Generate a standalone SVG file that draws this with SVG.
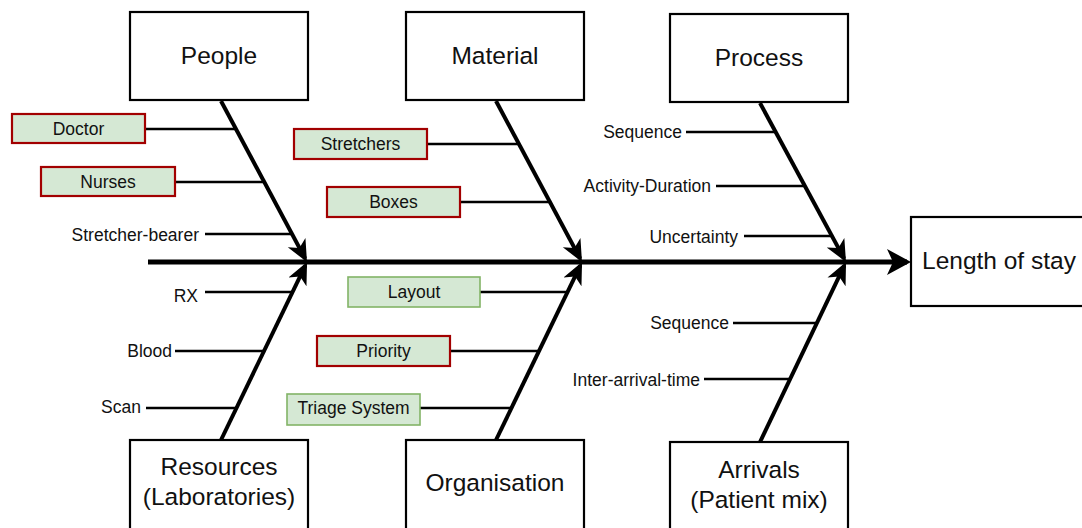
<svg xmlns="http://www.w3.org/2000/svg" width="1082" height="528" viewBox="0 0 1082 528">
<style>
.node rect{fill:#fff;stroke:#000;stroke-width:2.2}
.title{font-family:"Liberation Sans",Arial,sans-serif;font-size:24.5px;fill:#111;text-anchor:middle}
.lbl{font-family:"Liberation Sans",Arial,sans-serif;font-size:17.5px;fill:#111}
.bad rect{fill:#d5e8d4;stroke:#a20000;stroke-width:2.2}
.ok rect{fill:#d5e8d4;stroke:#82b366;stroke-width:1.6}
.bone{stroke:#000;stroke-width:4;fill:none}
.spine{stroke:#000;stroke-width:5;fill:none}
.br{stroke:#000;stroke-width:2.5;fill:none}
</style>
<defs>
<marker id="ah" markerUnits="userSpaceOnUse" markerWidth="24" markerHeight="24" viewBox="0 -12 24 24" refX="18" refY="0" orient="auto">
<path d="M0,-10 L22,0 L0,10 L6,0 Z" fill="#000"/>
</marker>
<marker id="ahb" markerUnits="userSpaceOnUse" markerWidth="26" markerHeight="28" viewBox="0 -14 26 28" refX="20" refY="0" orient="auto">
<path d="M0,-13 L24,0 L0,13 L6,0 Z" fill="#000"/>
</marker>
</defs>
<g id="connectors">
<line class="spine" x1="148" y1="262" x2="907" y2="262" marker-end="url(#ahb)"/>
<line class="bone" x1="221" y1="101" x2="305.1" y2="258.5" marker-end="url(#ah)"/>
<line class="bone" x1="496" y1="101" x2="580.1" y2="258.5" marker-end="url(#ah)"/>
<line class="bone" x1="760" y1="103" x2="844.1" y2="258.5" marker-end="url(#ah)"/>
<line class="bone" x1="221" y1="440" x2="305.3" y2="265.6" marker-end="url(#ah)"/>
<line class="bone" x1="496" y1="440" x2="580.3" y2="265.6" marker-end="url(#ah)"/>
<line class="bone" x1="760" y1="442" x2="844.3" y2="265.6" marker-end="url(#ah)"/>
<line class="br" x1="146" y1="129" x2="236" y2="129"/>
<line class="br" x1="175" y1="182" x2="264" y2="182"/>
<line class="br" x1="205" y1="234" x2="292" y2="234"/>
<line class="br" x1="427" y1="144" x2="519" y2="144"/>
<line class="br" x1="460" y1="202" x2="550" y2="202"/>
<line class="br" x1="686" y1="132" x2="776" y2="132"/>
<line class="br" x1="716" y1="186" x2="805" y2="186"/>
<line class="br" x1="744" y1="236" x2="832" y2="236"/>
<line class="br" x1="205" y1="292" x2="293" y2="292"/>
<line class="br" x1="175" y1="351" x2="264" y2="351"/>
<line class="br" x1="146" y1="408" x2="237" y2="408"/>
<line class="br" x1="480" y1="292" x2="568" y2="292"/>
<line class="br" x1="450" y1="351" x2="539" y2="351"/>
<line class="br" x1="420" y1="408" x2="512" y2="408"/>
<line class="br" x1="733" y1="323" x2="817" y2="323"/>
<line class="br" x1="704" y1="379" x2="790" y2="379"/>
</g>
<g id="people" class="node"><rect x="130" y="12" width="178" height="88"/><text class="title" x="219" y="64">People</text></g>
<g id="material" class="node"><rect x="406" y="12" width="178" height="88"/><text class="title" x="495" y="64">Material</text></g>
<g id="process" class="node"><rect x="670" y="14" width="178" height="88"/><text class="title" x="759" y="66">Process</text></g>
<g id="resources" class="node"><rect x="130" y="440" width="178" height="92"/><text class="title" x="219" y="475">Resources</text><text class="title" x="219" y="505">(Laboratories)</text></g>
<g id="organisation" class="node"><rect x="406" y="440" width="178" height="92"/><text class="title" x="495" y="491">Organisation</text></g>
<g id="arrivals" class="node"><rect x="670" y="442" width="178" height="90"/><text class="title" x="759" y="478">Arrivals</text><text class="title" x="759" y="508">(Patient mix)</text></g>
<g id="length-of-stay" class="node"><rect x="911" y="217" width="180" height="89"/><text class="title" x="922" y="269" text-anchor="start" style="text-anchor:start">Length of stay</text></g>
<g id="doctor" class="bad"><rect x="12" y="114" width="133" height="29"/><text class="lbl" x="78.5" y="135" text-anchor="middle">Doctor</text></g>
<g id="nurses" class="bad"><rect x="41" y="167" width="134" height="29"/><text class="lbl" x="108" y="188" text-anchor="middle">Nurses</text></g>
<g id="stretcher-bearer"><text class="lbl" x="199" y="241" text-anchor="end">Stretcher-bearer</text></g>
<g id="stretchers" class="bad"><rect x="294" y="129" width="133" height="30"/><text class="lbl" x="360.5" y="150" text-anchor="middle">Stretchers</text></g>
<g id="boxes" class="bad"><rect x="327" y="187" width="133" height="30"/><text class="lbl" x="393.5" y="208" text-anchor="middle">Boxes</text></g>
<g id="sequence-top"><text class="lbl" x="682" y="138" text-anchor="end">Sequence</text></g>
<g id="activity-duration"><text class="lbl" x="711" y="192" text-anchor="end">Activity-Duration</text></g>
<g id="uncertainty"><text class="lbl" x="738" y="243" text-anchor="end">Uncertainty</text></g>
<g id="rx"><text class="lbl" x="198" y="302" text-anchor="end">RX</text></g>
<g id="blood"><text class="lbl" x="172" y="357" text-anchor="end">Blood</text></g>
<g id="scan"><text class="lbl" x="141" y="413" text-anchor="end">Scan</text></g>
<g id="layout" class="ok"><rect x="348" y="277" width="132" height="30"/><text class="lbl" x="414" y="298" text-anchor="middle">Layout</text></g>
<g id="priority" class="bad"><rect x="317" y="336" width="133" height="30"/><text class="lbl" x="383.5" y="357" text-anchor="middle">Priority</text></g>
<g id="triage-system" class="ok"><rect x="287" y="394" width="133" height="31"/><text class="lbl" x="353.5" y="414" text-anchor="middle">Triage System</text></g>
<g id="sequence-bottom"><text class="lbl" x="729" y="329" text-anchor="end">Sequence</text></g>
<g id="inter-arrival-time"><text class="lbl" x="700" y="386" text-anchor="end">Inter-arrival-time</text></g>
</svg>
